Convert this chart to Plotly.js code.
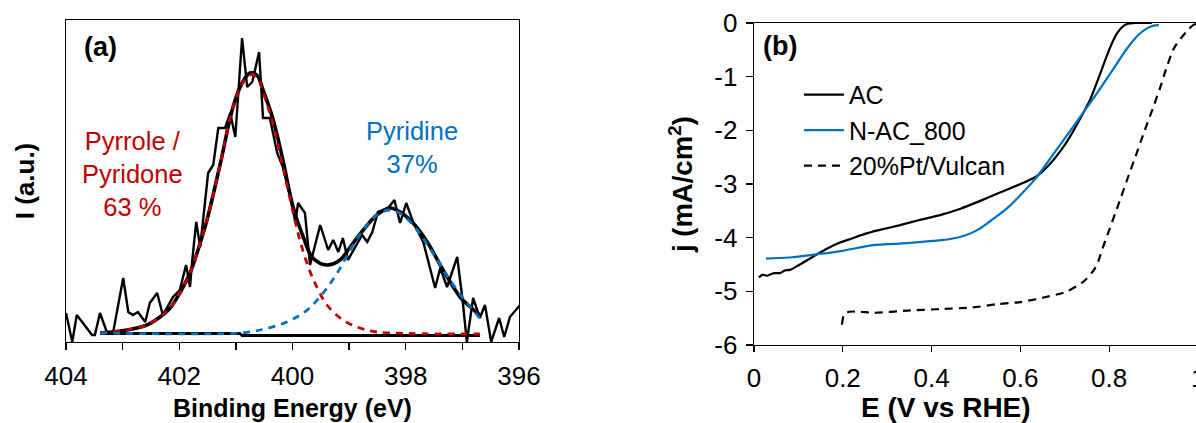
<!DOCTYPE html>
<html><head><meta charset="utf-8">
<script src="https://cdn.plot.ly/plotly-3.0.1.min.js"></script>
<style>html,body{margin:0;padding:0;background:#fff}#chart{width:1196px;height:423px}</style>
</head><body><div id="chart"></div>
<script>
// ---- Panel (a): XPS N1s ----
const xpsBE = [404.00,403.89,403.81,403.54,403.49,403.40,403.28,403.17,402.99,402.90,402.82,402.73,402.60,402.52,402.39,402.29,402.11,401.99,401.88,401.81,401.77,401.70,401.63,401.49,401.40,401.31,401.19,401.10,401.01,400.89,400.80,400.71,400.59,400.52,400.40,400.27,400.17,400.04,399.95,399.90,399.78,399.69,399.51,399.37,399.28,399.19,399.11,399.02,398.77,398.68,398.59,398.49,398.31,398.20,398.10,397.99,397.87,397.69,397.48,397.39,397.27,397.09,396.99,396.92,396.81,396.69,396.60,396.49,396.35,396.26,396.16,395.98];
const xpsRaw = [290,0,270,70,70,290,100,90,640,300,270,300,200,390,490,270,450,520,770,550,820,1200,950,1690,1770,2140,2140,2290,2050,3040,2550,2600,2900,2240,2240,1890,1750,1450,1200,1390,1290,770,1170,920,1020,900,1040,820,1070,1000,1100,1300,1340,1420,1190,1390,1200,1000,540,740,550,850,390,0,440,240,370,0,240,50,250,370];

const envBE = [403.40,402.92,402.57,402.34,402.16,401.99,401.81,401.63,401.51,401.28,401.05,400.89,400.75,400.63,400.52,400.34,400.17,399.99,399.81,399.64,399.39,399.16,398.98,398.75,398.51,398.28,398.10,397.87,397.62,397.34,397.04,396.86,396.69];
const envFit = [90,120,170,250,340,490,690,990,1220,1770,2350,2590,2690,2670,2520,2220,1820,1350,1050,840,770,820,950,1120,1270,1340,1300,1190,1000,720,450,350,270];

const pyrroleBE = [403.40,402.92,402.57,402.34,402.16,401.99,401.81,401.63,401.51,401.28,401.05,400.89,400.75,400.63,400.52,400.34,400.17,399.99,399.87,399.72,399.57,399.39,399.11,398.81,398.51,397.92,396.69];
const pyrroleFit = [90,120,170,250,340,490,690,990,1220,1770,2350,2580,2670,2650,2500,2170,1750,1300,1020,750,550,370,220,140,100,85,80];

const pyridineBE = [403.40,400.93,400.57,400.10,399.74,399.46,399.21,398.98,398.75,398.51,398.28,398.05,397.80,397.52,397.22,396.92,396.69];
const pyridineFit = [90,90,120,200,320,490,690,920,1120,1270,1320,1270,1120,890,620,390,240];

const baseBE = [403.40,400.93,400.89,396.69];
const baseFit = [85,85,65,65];

// ---- Panel (b): LSV ----
const acE = [0.011,0.020,0.030,0.045,0.059,0.070,0.081,0.097,0.120,0.142,0.165,0.194,0.219,0.250,0.281,0.327,0.373,0.419,0.465,0.511,0.557,0.603,0.634,0.665,0.700,0.720,0.740,0.757,0.775,0.791,0.805,0.818,0.830,0.840,0.860,0.896];
const acJ = [-4.74,-4.69,-4.71,-4.66,-4.66,-4.61,-4.60,-4.53,-4.42,-4.31,-4.20,-4.09,-4.02,-3.93,-3.86,-3.77,-3.67,-3.58,-3.46,-3.31,-3.15,-2.99,-2.87,-2.64,-2.27,-2.00,-1.70,-1.43,-1.05,-0.69,-0.40,-0.19,-0.07,-0.02,0,0];

const nacE = [0.027,0.081,0.142,0.196,0.268,0.327,0.404,0.445,0.475,0.505,0.534,0.573,0.603,0.634,0.665,0.700,0.726,0.752,0.775,0.792,0.809,0.828,0.847,0.866,0.885,0.900,0.912];
const nacJ = [-4.39,-4.37,-4.31,-4.25,-4.14,-4.11,-4.06,-4.02,-3.96,-3.85,-3.68,-3.43,-3.18,-2.90,-2.55,-2.15,-1.85,-1.55,-1.28,-1.07,-0.86,-0.62,-0.40,-0.22,-0.10,-0.05,-0.04];

const ptE = [0.198,0.203,0.215,0.240,0.270,0.345,0.420,0.493,0.547,0.600,0.650,0.703,0.742,0.765,0.775,0.785,0.800,0.820,0.840,0.860,0.880,0.900,0.915,0.926,0.944,0.955,0.964,0.977,0.989,1.000];
const ptJ = [-5.62,-5.43,-5.38,-5.38,-5.40,-5.36,-5.33,-5.30,-5.24,-5.20,-5.12,-5.01,-4.82,-4.61,-4.45,-4.20,-3.86,-3.40,-2.93,-2.47,-2.00,-1.55,-1.20,-0.91,-0.50,-0.35,-0.26,-0.13,-0.04,0];

const seriesNames = ['AC','N-AC_800','20%Pt/Vulcan'];
const jTickVals = [-6,-5,-4,-3,-2,-1,0];
const jTickText = ['-6','-5','-4','-3','-2','-1','0'];

const RED = '#C00000', BLUE = '#0070C0';
const FONT = 'Liberation Sans, Arial, sans-serif';

const traces = [
  {x: xpsBE, y: xpsRaw, xaxis:'x', yaxis:'y', mode:'lines', line:{color:'#000', width:2.4}, showlegend:false},
  {x: baseBE, y: baseFit, xaxis:'x', yaxis:'y', mode:'lines', line:{color:'#000', width:2.8}, showlegend:false},
  {x: envBE, y: envFit, xaxis:'x', yaxis:'y', mode:'lines', line:{color:'#000', width:3.6, shape:'spline'}, showlegend:false},
  {x: pyrroleBE, y: pyrroleFit, xaxis:'x', yaxis:'y', mode:'lines', line:{color:RED, width:2.8, dash:'7px,6px', shape:'spline'}, showlegend:false},
  {x: pyridineBE, y: pyridineFit, xaxis:'x', yaxis:'y', mode:'lines', line:{color:BLUE, width:2.8, dash:'7px,6px', shape:'spline'}, showlegend:false},
  {x: acE, y: acJ, xaxis:'x2', yaxis:'y2', mode:'lines', name:seriesNames[0], line:{color:'#000', width:2.2, shape:'spline', smoothing:0.6}},
  {x: nacE, y: nacJ, xaxis:'x2', yaxis:'y2', mode:'lines', name:seriesNames[1], line:{color:BLUE, width:2.2, shape:'spline'}},
  {x: ptE, y: ptJ, xaxis:'x2', yaxis:'y2', mode:'lines', name:seriesNames[2], line:{color:'#000', width:2.2, dash:'8px,6px', shape:'spline', smoothing:0.6}}
];

const axBase = {showline:true, linecolor:'#000', linewidth:1.3, showgrid:false, zeroline:false,
  tickfont:{family:FONT, size:26, color:'#000'}, tickcolor:'#000'};

const layout = {
  width:1196, height:423, margin:{l:0,r:0,t:0,b:0},
  paper_bgcolor:'#fff', plot_bgcolor:'rgba(0,0,0,0)',
  font:{family:FONT, color:'#000'},
  xaxis: Object.assign({}, axBase, {domain:[0.0552,0.4339], anchor:'y', range:[404,396], mirror:true,
    ticks:'outside', ticklen:7, tickwidth:1.3, dtick:2, tick0:396, ticklabelstandoff:4,
    minor:{dtick:1, ticks:'outside', ticklen:7, tickwidth:1.3, tickcolor:'#000', showgrid:false},
    title:{text:'<b>Binding Energy (eV)</b>', font:{family:FONT, size:25, color:'#000'}, standoff:9}}),
  yaxis: Object.assign({}, axBase, {domain:[0.1915,0.9527], anchor:'x', range:[0,3220], mirror:true,
    showticklabels:false, ticks:'',
    title:{text:'<b>I (a.u.)</b>', font:{family:FONT, size:26, color:'#000'}, standoff:22}}),
  xaxis2: Object.assign({}, axBase, {domain:[0.6304,1], anchor:'y2', range:[0,0.9955], mirror:true,
    ticks:'outside', ticklen:6, tickwidth:1.3, dtick:0.2, tick0:0, ticklabelstandoff:4}),
  yaxis2: Object.assign({}, axBase, {domain:[0.1844,0.9456], anchor:'x2', range:[-6,0],
    tickvals:jTickVals, ticktext:jTickText, ticks:'outside', ticklen:7, tickwidth:1.3, ticklabelstandoff:3,
    title:{text:'<b>j (mA/cm<sup>2</sup>)</b>', font:{family:FONT, size:27.5, color:'#000'}, standoff:13}}),
  showlegend:true,
  legend:{x:0.668, y:0.83, xanchor:'left', yanchor:'top', bgcolor:'rgba(0,0,0,0)',
    font:{family:FONT, size:25, color:'#000'}, tracegroupgap:0, itemwidth:40},
  annotations:[
    {xref:'paper', yref:'paper', x:946/1196, y:(423-407)/423, text:'<b>E (V vs RHE)</b>', showarrow:false,
      font:{family:FONT, size:28, color:'#000'}, xanchor:'center', yanchor:'middle'},
    {xref:'paper', yref:'paper', x:100/1196, y:(423-47)/423, text:'<b>(a)</b>', showarrow:false,
      font:{family:FONT, size:27, color:'#000'}, xanchor:'center', yanchor:'middle'},
    {xref:'paper', yref:'paper', x:780/1196, y:(423-46)/423, text:'<b>(b)</b>', showarrow:false,
      font:{family:FONT, size:27, color:'#000'}, xanchor:'center', yanchor:'middle'},
    {xref:'paper', yref:'paper', x:132/1196, y:(423-174)/423, text:'Pyrrole /<br>Pyridone<br>63 %', showarrow:false,
      font:{family:FONT, size:25.5, color:RED}, xanchor:'center', yanchor:'middle', align:'center'},
    {xref:'paper', yref:'paper', x:412/1196, y:(423-148)/423, text:'Pyridine<br>37%', showarrow:false,
      font:{family:FONT, size:25.5, color:BLUE}, xanchor:'center', yanchor:'middle', align:'center'},
    {xref:'paper', yref:'paper', x:1198/1196, y:(423-378)/423, text:'1', showarrow:false,
      font:{family:FONT, size:26, color:'#000'}, xanchor:'center', yanchor:'middle'}
  ]
};

Plotly.newPlot('chart', traces, layout, {staticPlot:true, displayModeBar:false});
</script></body></html>
